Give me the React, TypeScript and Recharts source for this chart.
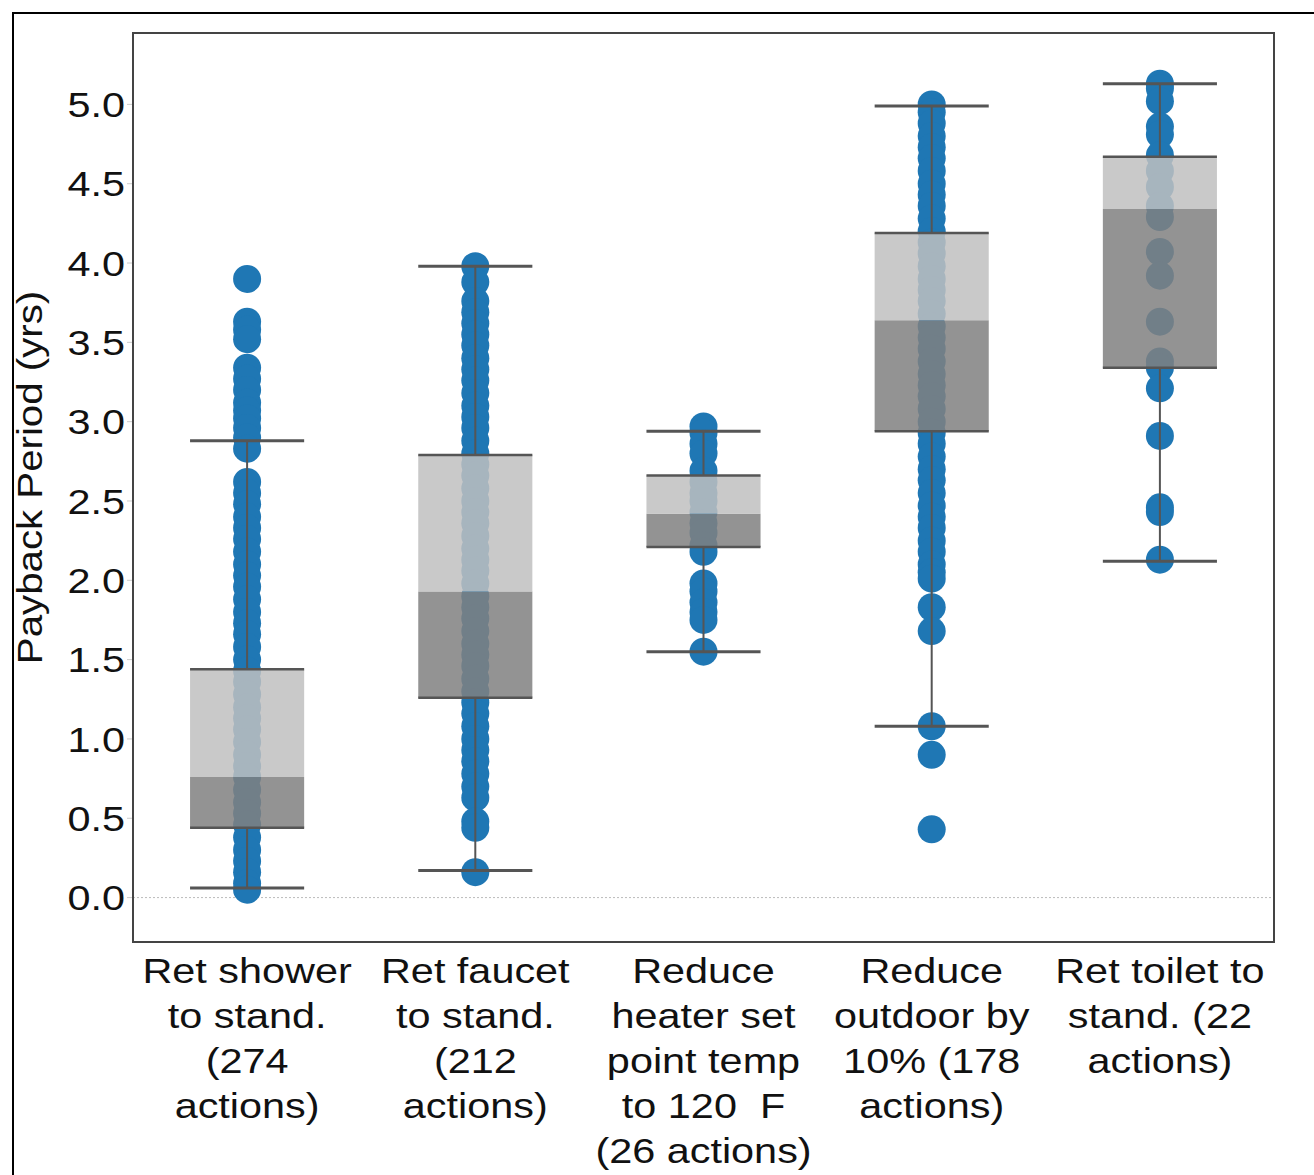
import React from 'react'
import {
  ComposedChart, Scatter, XAxis, YAxis, ReferenceArea, ReferenceLine,
} from 'recharts'

// categories / x tick labels (one line each)
const labelLines = [
  ['Ret shower', 'to stand.', '(274', 'actions)'],
  ['Ret faucet', 'to stand.', '(212', 'actions)'],
  ['Reduce', 'heater set', 'point temp', 'to 120  F', '(26 actions)'],
  ['Reduce', 'outdoor by', '10% (178', 'actions)'],
  ['Ret toilet to', 'stand. (22', 'actions)'],
]
const catPos = [0.5, 1.5, 2.5, 3.5, 4.5]
const yTicks = [0, 0.5, 1, 1.5, 2, 2.5, 3, 3.5, 4, 4.5, 5]

// box stats
const whiskerLow = [0.06, 0.17, 1.55, 1.08, 2.12]
const q1 = [0.44, 1.26, 2.21, 2.94, 3.34]
const median = [0.76, 1.93, 2.42, 3.64, 4.34]
const q3 = [1.44, 2.79, 2.66, 4.19, 4.67]
const whiskerHigh = [2.88, 3.98, 2.94, 4.99, 5.13]

// individual payback values (dots)
const showerDots = [3.9, 3.63, 3.58, 3.52, 3.34, 3.27, 3.2, 3.12, 3.07, 3.02, 2.96, 2.9, 2.83, 2.62, 2.55, 2.48, 2.4, 2.33, 2.26, 2.18, 2.1, 2.03, 1.96, 1.88, 1.8, 1.73, 1.66, 1.58, 1.5, 1.43, 1.36, 1.28, 1.2, 1.13, 1.06, 0.98, 0.9, 0.83, 0.76, 0.68, 0.6, 0.53, 0.46, 0.38, 0.3, 0.23, 0.16, 0.09, 0.05]
const faucetDots = [3.98, 3.88, 3.76, 3.69, 3.62, 3.55, 3.48, 3.4, 3.33, 3.26, 3.18, 3.1, 3.03, 2.96, 2.88, 2.8, 2.73, 2.66, 2.58, 2.5, 2.43, 2.36, 2.28, 2.2, 2.13, 2.06, 1.98, 1.9, 1.83, 1.76, 1.68, 1.6, 1.53, 1.46, 1.38, 1.3, 1.23, 1.16, 1.08, 1.0, 0.93, 0.86, 0.78, 0.7, 0.63, 0.48, 0.44, 0.16]
const heaterDots = [2.97, 2.93, 2.86, 2.8, 2.69, 2.62, 2.55, 2.5, 2.43, 2.36, 2.3, 2.22, 2.18, 1.98, 1.93, 1.86, 1.8, 1.75, 1.55]
const outdoorDots = [5.0, 4.95, 4.88, 4.8, 4.73, 4.66, 4.58, 4.5, 4.43, 4.36, 4.28, 4.2, 4.13, 4.06, 3.98, 3.9, 3.83, 3.76, 3.68, 3.6, 3.53, 3.46, 3.38, 3.3, 3.23, 3.16, 3.08, 3.0, 2.93, 2.86, 2.78, 2.7, 2.63, 2.55, 2.47, 2.4, 2.33, 2.25, 2.18, 2.1, 2.05, 2.01, 1.83, 1.68, 1.08, 0.9, 0.43]
const toiletDots = [5.13, 5.1, 5.02, 4.86, 4.81, 4.68, 4.58, 4.48, 4.36, 4.29, 4.07, 3.92, 3.63, 3.38, 3.34, 3.21, 2.91, 2.46, 2.43, 2.13]

const dotSets = [showerDots, faucetDots, heaterDots, outdoorDots, toiletDots]

const FONT = '"Liberation Sans", Arial, sans-serif'
const LINE = '#555555'
const BLUE = '#1f77b4'
const HALF = 0.25

const XTick = ({ x, y, payload }: any) => {
  const idx = catPos.indexOf(payload.value)
  const lines = labelLines[idx] || []
  return (
    <g transform={`translate(${x},${y})`}>
      {lines.map((l, i) => (
        <text key={i} x={0} y={0} transform={`translate(0,${33 + 45 * i}) scale(1.15,1)`}
          textAnchor="middle" fill="#111" fontSize={36} fontFamily={FONT} style={{ whiteSpace: 'pre' }}>
          {l}
        </text>
      ))}
    </g>
  )
}

const YTick = ({ x, y, payload }: any) => (
  <text transform={`translate(${x},${y}) scale(1.15,1)`} dy="0.355em" textAnchor="end"
    fill="#111" fontSize={36} fontFamily={FONT}>
    {Number(payload.value).toFixed(1)}
  </text>
)

const YLabel = ({ viewBox }: any) => {
  const cy = viewBox.y + viewBox.height / 2
  return (
    <text transform={`translate(42,${cy - 10}) rotate(-90) scale(1.15,1)`} textAnchor="middle"
      fill="#111" fontSize={35} fontFamily={FONT}>
      Payback Period (yrs)
    </text>
  )
}

const dot = (p: any) => <circle cx={p.cx} cy={p.cy} r={14} fill={BLUE} />

export default function App() {
  return (
    <div style={{ position: 'absolute', left: 0, top: 0, width: 1314, height: 1175, overflow: 'hidden', background: '#fff' }}>
      <div style={{ position: 'absolute', left: 12, top: 12, width: 1320, height: 1180, borderTop: '2px solid #000', borderLeft: '2px solid #000' }} />
      <div style={{ position: 'absolute', left: 0, top: 0 }}>
        <ComposedChart width={1314} height={1175} margin={{ top: 33, right: 40, bottom: 0, left: 0 }}>
          <XAxis type="number" dataKey="x" domain={[0, 5]} ticks={catPos} tick={<XTick />}
            tickLine={false} axisLine={false} height={233} allowDataOverflow interval={0} />
          <YAxis type="number" dataKey="y" domain={[-0.28, 5.45]} ticks={yTicks} tick={<YTick />}
            tickLine={{ stroke: '#cccccc' }} tickSize={6} tickMargin={2} axisLine={false} width={133}
            allowDataOverflow interval={0} label={{ content: <YLabel /> }} />
          <ReferenceLine y={0} stroke="#bbbbbb" strokeDasharray="2 2" strokeWidth={1} />
          {dotSets.map((vals, i) => (
            <Scatter key={'s' + i} data={vals.map(v => ({ x: catPos[i], y: v }))} dataKey="y"
              shape={dot} isAnimationActive={false} />
          ))}
          {catPos.map((c, i) => (
            <ReferenceArea key={'d' + i} x1={c - HALF} x2={c + HALF} y1={q1[i]} y2={median[i]}
              fill="#808080" fillOpacity={0.85} stroke="none" zIndex={700} />
          ))}
          {catPos.map((c, i) => (
            <ReferenceArea key={'l' + i} x1={c - HALF} x2={c + HALF} y1={median[i]} y2={q3[i]}
              fill="#c0c0c0" fillOpacity={0.85} stroke="none" zIndex={700} />
          ))}
          {catPos.map((c, i) => [
            <ReferenceLine key={'wl' + i} segment={[{ x: c, y: whiskerLow[i] }, { x: c, y: q1[i] }]} stroke={LINE} strokeWidth={2} zIndex={800} />,
            <ReferenceLine key={'wh' + i} segment={[{ x: c, y: q3[i] }, { x: c, y: whiskerHigh[i] }]} stroke={LINE} strokeWidth={2} zIndex={800} />,
            <ReferenceLine key={'cl' + i} segment={[{ x: c - HALF, y: whiskerLow[i] }, { x: c + HALF, y: whiskerLow[i] }]} stroke={LINE} strokeWidth={3} zIndex={800} />,
            <ReferenceLine key={'ch' + i} segment={[{ x: c - HALF, y: whiskerHigh[i] }, { x: c + HALF, y: whiskerHigh[i] }]} stroke={LINE} strokeWidth={3} zIndex={800} />,
            <ReferenceLine key={'q1' + i} segment={[{ x: c - HALF, y: q1[i] }, { x: c + HALF, y: q1[i] }]} stroke={LINE} strokeWidth={2.5} zIndex={800} />,
            <ReferenceLine key={'q3' + i} segment={[{ x: c - HALF, y: q3[i] }, { x: c + HALF, y: q3[i] }]} stroke={LINE} strokeWidth={2.5} zIndex={800} />,
          ])}
          <ReferenceArea x1={0} x2={5} y1={-0.28} y2={5.45} fill="none" stroke="#444" strokeWidth={2} zIndex={900} />
        </ComposedChart>
      </div>
    </div>
  )
}
